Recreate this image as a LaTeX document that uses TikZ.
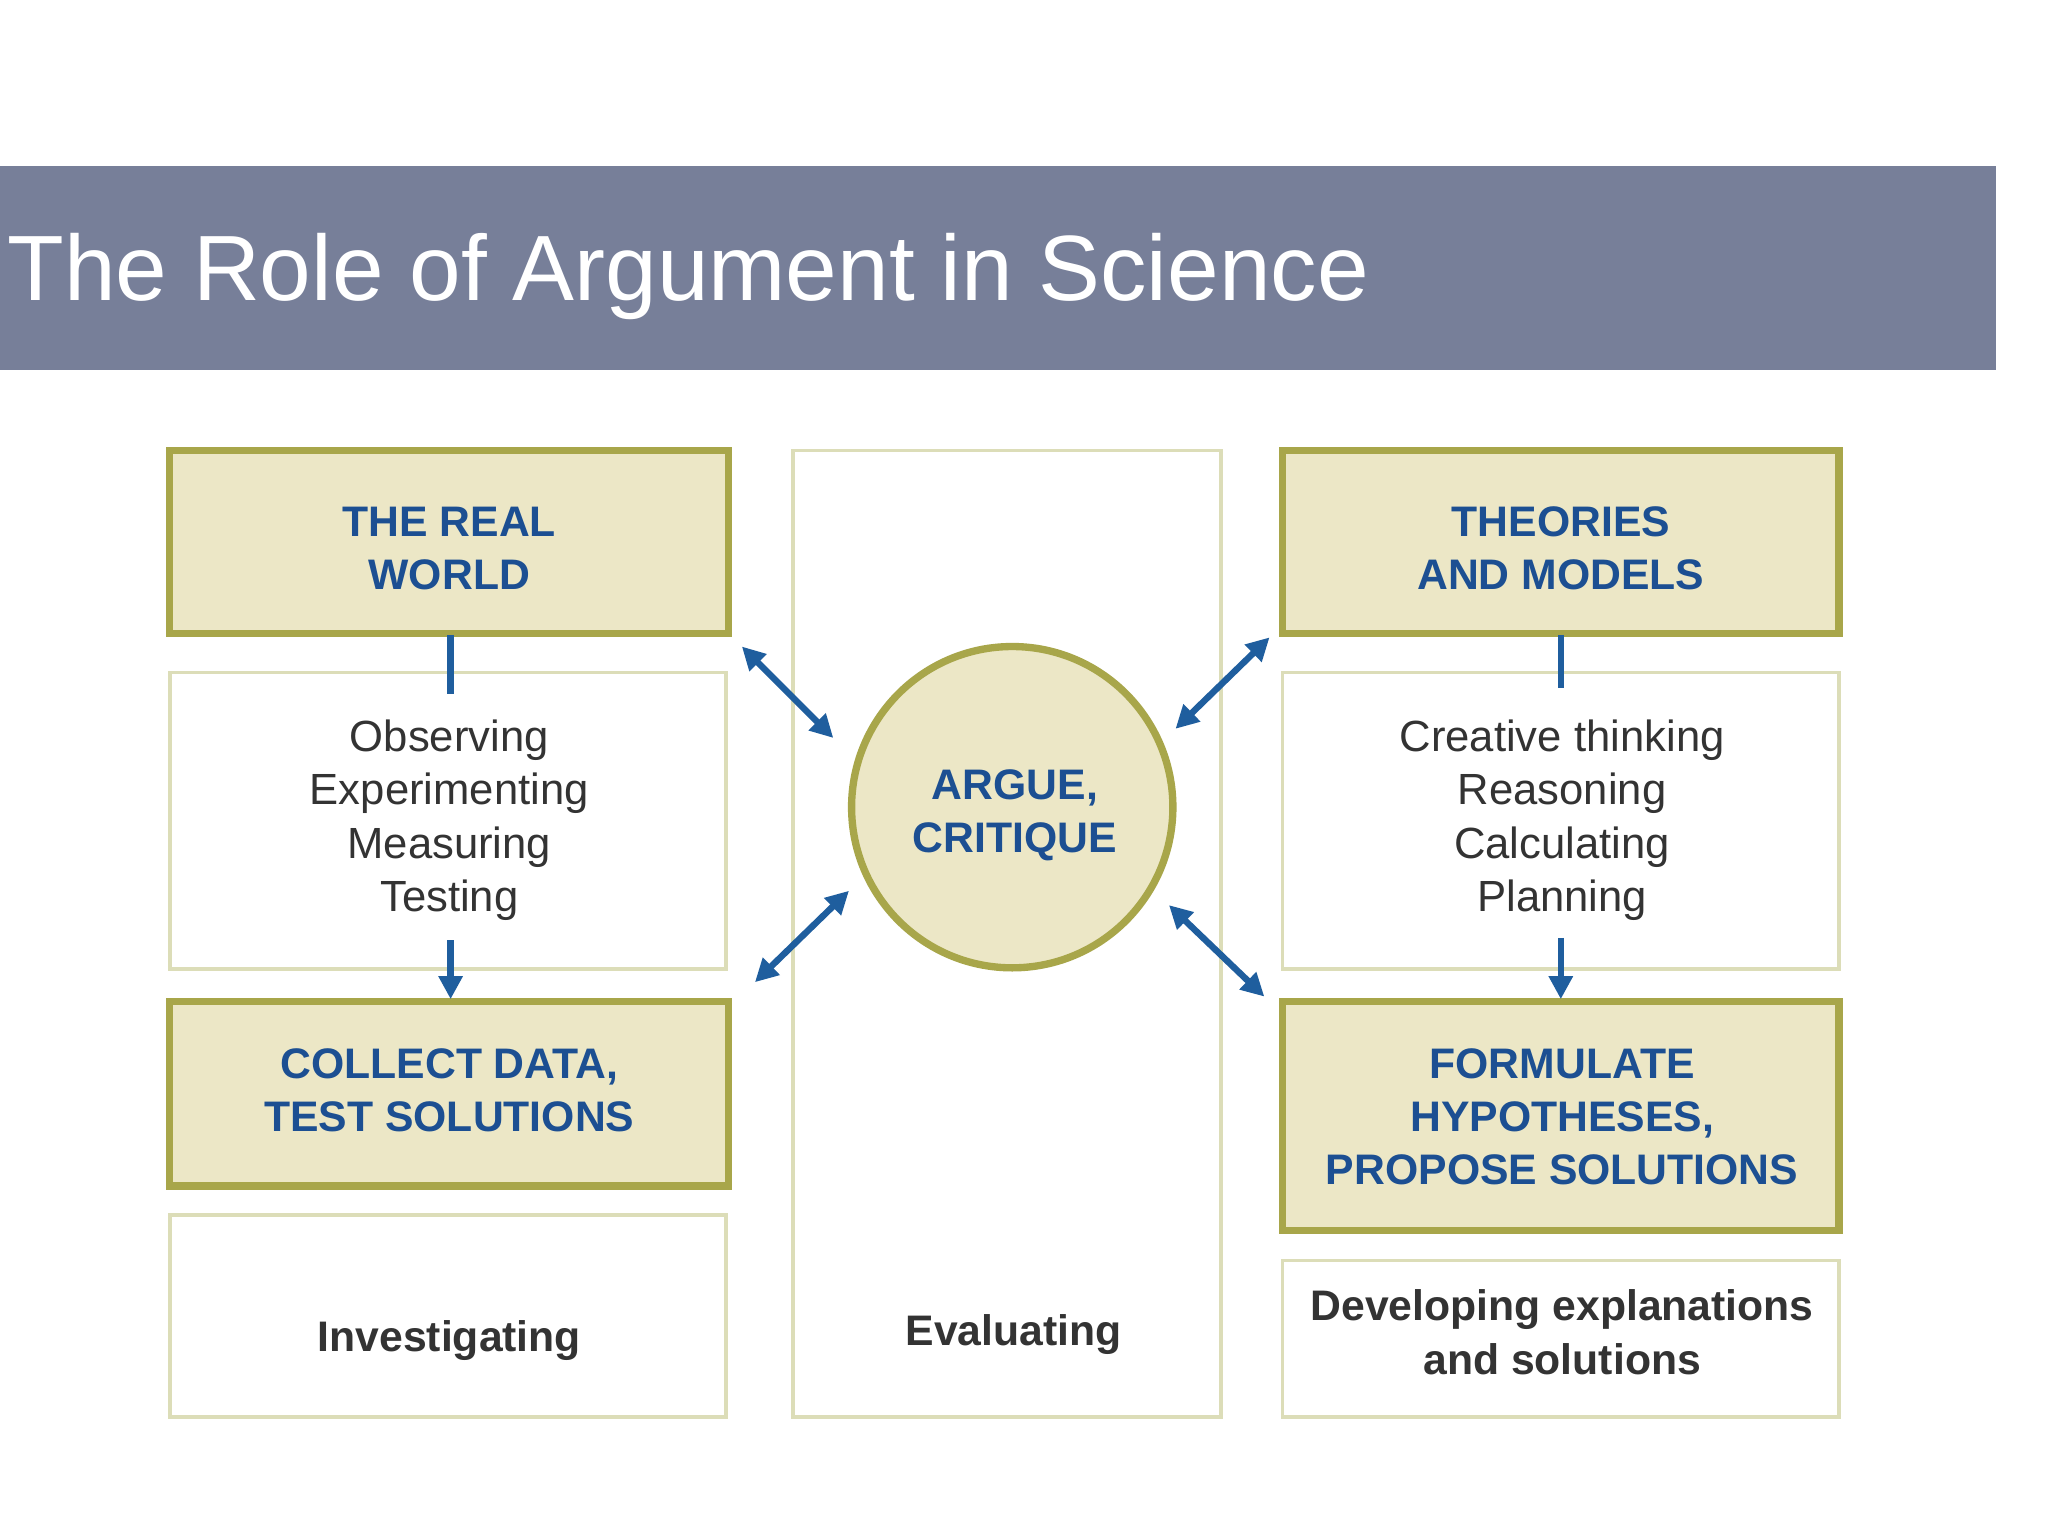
\documentclass[tikz,border=0pt]{standalone}
\usepackage{fontspec}
\setmainfont{Liberation Sans}
\usetikzlibrary{arrows.meta}
\definecolor{band}{HTML}{777F99}
\definecolor{boxfill}{HTML}{ECE7C6}
\definecolor{olive}{HTML}{A8A64A}
\definecolor{lightolive}{HTML}{DCDDB8}
\definecolor{dblue}{HTML}{1C4F92}
\definecolor{arrblue}{HTML}{1F5E9E}
\definecolor{txtgray}{HTML}{333333}
\begin{document}
\begin{tikzpicture}[x=0.01cm,y=-0.01cm,
  hbox/.style={draw=olive,line width=1.6pt,fill=boxfill},
  panel/.style={draw=lightolive,line width=0.8pt},
  htext/.style={text=dblue,font=\bfseries\fontsize{9.3}{11.6}\selectfont,align=center},
  btext/.style={text=txtgray,font=\fontsize{9.5}{11.6}\selectfont,align=center},
  bbtext/.style={text=txtgray,font=\bfseries\fontsize{9.3}{11.6}\selectfont,align=center},
  dbl/.style={draw=arrblue,line width=1.4pt,{Triangle[length=5pt,width=5pt]}-{Triangle[length=5pt,width=5pt]}},
  sgl/.style={draw=arrblue,line width=1.4pt,-{Triangle[length=5pt,width=5pt]}},
  ln/.style={draw=arrblue,line width=1.4pt}]
\useasboundingbox (0,0) rectangle (1568,1176);
\fill[white] (0,0) rectangle (1568,1176);
\fill[band] (0,127) rectangle (1528,283);
\node[anchor=west,text=white,font=\fontsize{20.2}{24}\selectfont,inner sep=0] (title) at (5,212) {The Role of Argument in Science};
% panels
\draw[panel] (130,515) rectangle (556,742);
\draw[panel] (130,930) rectangle (556,1085);
\draw[panel] (607,345) rectangle (935,1085);
\draw[panel] (982,515) rectangle (1408,742);
\draw[panel] (982,965) rectangle (1408,1085);
% boxes
\path[hbox] (130,345) rectangle (558,485);
\node[htext] (rwt) at (344,420) {THE REAL\\WORLD};
\path[hbox] (130,767) rectangle (558,908);
\node[htext] (cd) at (344,835) {COLLECT DATA,\\TEST SOLUTIONS};
\path[hbox] (982,345) rectangle (1408,485);
\node[htext] (tm) at (1195,420) {THEORIES\\AND MODELS};
\path[hbox] (982,767) rectangle (1408,942);
\node[htext] (fh) at (1196,855) {FORMULATE\\HYPOTHESES,\\PROPOSE SOLUTIONS};
% circle
\path[draw=olive,line width=1.6pt,fill=boxfill] (775,618) circle[radius=123];
\node[htext] (ac) at (777,624) {ARGUE,\\CRITIQUE};
% body texts
\node[btext] (obs) at (344,628) {Observing\\Experimenting\\Measuring\\Testing};
\node[btext] (cre) at (1196,628) {Creative thinking\\Reasoning\\Calculating\\Planning};
\node[bbtext] (inv) at (344,1026) {Investigating};
\node[bbtext] (eva) at (776,1022) {Evaluating};
\node[bbtext] (dev) at (1196,1020) {Developing explanations\\and solutions};
% arrows
\coordinate (a1) at (345,486); \coordinate (a2) at (345,531);
\coordinate (a3) at (345,720); \coordinate (a4) at (345,765);
\draw[ln] (a1) -- (a2); \draw[sgl] (a3) -- (a4);
\coordinate (b1) at (1195,486); \coordinate (b2) at (1195,527);
\coordinate (b3) at (1195,718); \coordinate (b4) at (1195,765);
\draw[ln] (b1) -- (b2); \draw[sgl] (b3) -- (b4);
\coordinate (d1) at (568,495); \coordinate (d2) at (638,565);
\coordinate (d3) at (578,752); \coordinate (d4) at (650,682);
\coordinate (d5) at (900,558); \coordinate (d6) at (972,488);
\coordinate (d7) at (895,693); \coordinate (d8) at (968,763);
\draw[dbl] (d1) -- (d2); \draw[dbl] (d3) -- (d4);
\draw[dbl] (d5) -- (d6); \draw[dbl] (d7) -- (d8);
\end{tikzpicture}
\end{document}
